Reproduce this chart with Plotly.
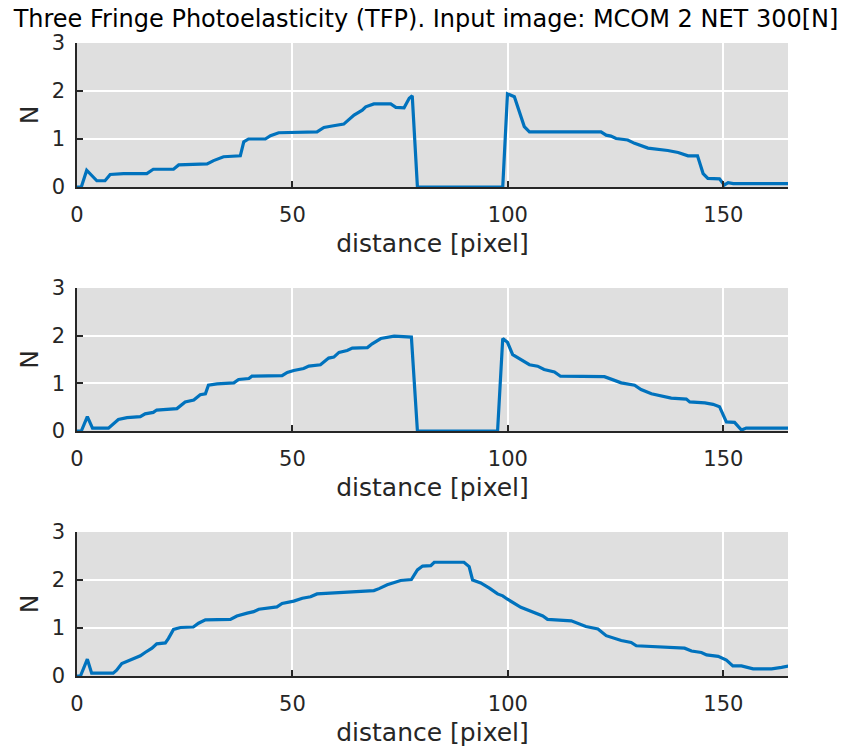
import plotly.graph_objects as go

# Fringe order along the line profile, three colour channels of the TFP result
x_top = [0, 1, 2.25, 4.6, 6.5, 7.7, 10.8, 16.2, 17.7, 22.4, 23.6, 30.2, 31.7, 34.0, 37.9, 38.7,
         39.8, 43.7, 44.9, 46.8, 55.7, 57.3, 59.2, 61.9, 64.3, 66.2, 67.0, 68.9, 72.8, 74.0,
         75.9, 77.1, 77.8, 79.0, 98.8, 99.9, 101.5, 103.8, 105.0, 121.6, 122.8, 123.9, 125.1,
         127.8, 129.4, 130.9, 132.5, 137.1, 139.5, 141.8, 144.0, 145.3, 146.4, 149.1, 150.2,
         151.1, 152.3, 165.4]
n_top = [0, 0, 0.35, 0.13, 0.13, 0.26, 0.28, 0.28, 0.37, 0.37, 0.46, 0.48, 0.55, 0.63, 0.65, 0.94,
         1.0, 1.0, 1.07, 1.13, 1.15, 1.24, 1.27, 1.31, 1.5, 1.6, 1.67, 1.73, 1.73, 1.66,
         1.65, 1.85, 1.9, 0, 0, 1.94, 1.88, 1.26, 1.15, 1.15, 1.08, 1.06, 1.01,
         0.98, 0.91, 0.86, 0.81, 0.76, 0.72, 0.65, 0.65, 0.28, 0.18, 0.17, 0.04,
         0.09, 0.07, 0.07]

x_mid = [0, 1, 2.4, 3.6, 7.3, 9.6, 11.6, 14.7, 15.8, 17.7, 18.5, 23.2, 25.1, 27.1, 28.6, 29.8,
         30.5, 32.5, 36.4, 37.5, 39.9, 40.6, 47.6, 48.8, 50.3, 52.6, 53.8, 56.5, 58.4, 59.6,
         60.8, 62.7, 63.9, 67.4, 68.5, 70.5, 73.6, 77.6, 79.0, 97.6, 98.8, 99.9, 101.1, 102.3,
         103.8, 105.0, 106.9, 108.4, 110.8, 112.2, 122.4, 124.0, 126.3, 129.4, 130.9, 133.3,
         136.3, 137.9, 141.4, 142.2, 145.7, 147.6, 149.1, 150.7, 152.6, 154.2, 155.3, 158.8,
         165.4]
n_mid = [0, 0, 0.3, 0.06, 0.06, 0.24, 0.28, 0.3, 0.36, 0.39, 0.44, 0.47, 0.61, 0.65, 0.76, 0.78,
         0.96, 0.99, 1.01, 1.08, 1.1, 1.15, 1.16, 1.23, 1.27, 1.31, 1.36, 1.39, 1.53, 1.55,
         1.65, 1.69, 1.74, 1.75, 1.83, 1.94, 1.99, 1.97, 0, 0, 1.94, 1.86, 1.6, 1.53,
         1.46, 1.39, 1.36, 1.29, 1.24, 1.15, 1.14, 1.08, 1.01, 0.96, 0.87, 0.78,
         0.73, 0.69, 0.67, 0.61, 0.59, 0.56, 0.51, 0.19, 0.18, 0.02, 0.06, 0.06,
         0.06]

x_bot = [0, 0.8, 2.4, 3.4, 8.4, 9.2, 10.4, 12.3, 14.7, 15.8, 17.4, 18.5, 20.5, 21.2, 22.4, 24.0,
         27.0, 28.2, 29.8, 35.6, 37.1, 39.5, 41.0, 42.2, 46.4, 47.6, 50.3, 52.3, 54.2, 55.7,
         60.4, 68.9, 70.1, 72.0, 75.1, 77.6, 79.0, 80.2, 82.1, 82.9, 89.8, 91.0, 91.8, 93.7,
         95.7, 97.6, 98.8, 99.9, 103.0, 106.1, 108.1, 109.2, 114.7, 118.1, 120.9, 122.8,
         126.3, 128.6, 129.8, 141.0, 142.6, 144.9, 146.1, 148.8, 150.7, 152.2, 154.2, 156.9,
         161.2, 163.5, 165.4]
n_bot = [0, 0, 0.35, 0.06, 0.06, 0.12, 0.26, 0.33, 0.42, 0.49, 0.58, 0.67, 0.69, 0.78, 0.97, 1.01,
         1.02, 1.1, 1.17, 1.18, 1.25, 1.31, 1.34, 1.39, 1.44, 1.51, 1.56, 1.62, 1.65, 1.71,
         1.74, 1.78, 1.82, 1.9, 1.99, 2.01, 2.21, 2.29, 2.3, 2.37, 2.37, 2.28, 2.0, 1.94,
         1.83, 1.71, 1.67, 1.6, 1.43, 1.31, 1.25, 1.18, 1.15, 1.03, 0.98, 0.84,
         0.74, 0.70, 0.63, 0.58, 0.52, 0.49, 0.44, 0.41, 0.33, 0.21, 0.21, 0.15,
         0.15, 0.18, 0.21]

series = [(x_top, n_top), (x_mid, n_mid), (x_bot, n_bot)]

title_text = "Three Fringe Photoelasticity (TFP). Input image: MCOM 2 NET 300[N]"
x_title = "distance [pixel]"
y_title = "N"
x_ticks = [0, 50, 100, 150]
y_ticks = [0, 1, 2, 3]

W, H = 852, 754
FONT = "DejaVu Sans"
INK = "#262626"
LINE = "#0072BD"

# plot-area boxes in pixels: (left, right, top, bottom)
boxes = [(77, 788, 43, 187), (77, 788, 288, 431), (77, 788, 532, 676)]

fig = go.Figure()
for i, ((xs, ys), (l, r, t, b)) in enumerate(zip(series, boxes), start=1):
    sfx = "" if i == 1 else str(i)
    fig.add_trace(go.Scatter(
        x=xs, y=ys, mode="lines",
        line=dict(color=LINE, width=3.2),
        xaxis="x" + sfx, yaxis="y" + sfx, showlegend=False, hoverinfo="skip",
    ))
    common = dict(
        showline=True, linecolor=INK, linewidth=1.5,
        ticks="inside", ticklen=6, tickwidth=1.5, tickcolor=INK,
        showgrid=True, gridcolor="white", gridwidth=2,
        zeroline=False, mirror=False, automargin=False,
        tickfont=dict(family=FONT, size=21, color=INK),
    )
    fig.update_layout({
        "xaxis" + sfx: dict(
            common, domain=[l / W, r / W], anchor="y" + sfx,
            range=[0, 165], tickvals=x_ticks, ticklabelstandoff=8,
            title=dict(text=x_title, font=dict(family=FONT, size=25, color=INK), standoff=9),
        ),
        "yaxis" + sfx: dict(
            common, domain=[1 - b / H, 1 - t / H], anchor="x" + sfx,
            range=[0, 3], tickvals=y_ticks, ticklabelstandoff=6,
            title=dict(text=y_title, font=dict(family=FONT, size=25, color=INK), standoff=6),
        ),
    })

fig.update_layout(
    width=W, height=H,
    margin=dict(l=0, r=0, t=0, b=0, autoexpand=False),
    paper_bgcolor="white", plot_bgcolor="#dfdfdf",
    title=dict(text=title_text, x=0.5, xanchor="center", y=1 - 19 / H, yanchor="middle",
               automargin=False, font=dict(family=FONT, size=24, color="black")),
)

fig.write_html("out.html")
